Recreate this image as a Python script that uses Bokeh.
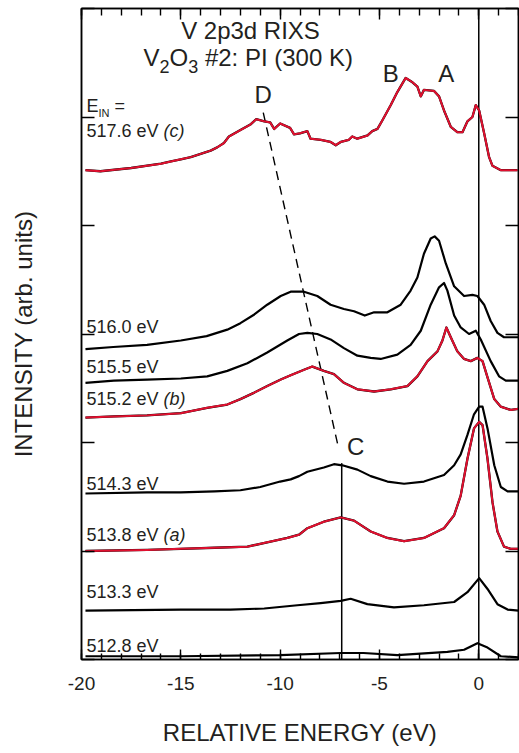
import math
from bokeh.plotting import figure
from bokeh.models import Range1d, LinearAxis, SingleIntervalTicker, FixedTicker, Label
from bokeh.embed import file_html
from bokeh.resources import INLINE

# ---------------- data (relative energy eV, intensity arb. units incl. offset) -------------
spec_517_6 = [(-19.8, 4.51), (-19.05, 4.50), (-17.5, 4.53), (-16, 4.57), (-15.5, 4.59), (-15, 4.61),
              (-14.5, 4.63), (-14, 4.66), (-13.5, 4.69), (-13.17, 4.72), (-12.83, 4.76), (-12.58, 4.82),
              (-12, 4.88), (-11.5, 4.93), (-11.2, 4.98), (-10.8, 4.96),
              (-10.5, 4.95), (-10.3, 4.89), (-10, 4.94), (-9.5, 4.90), (-9.3, 4.84), (-9.0, 4.85),
              (-8.63, 4.87), (-8.47, 4.80), (-7.96, 4.79), (-7.46, 4.77), (-7.2, 4.74), (-6.95, 4.77),
              (-6.54, 4.79), (-6.37, 4.82), (-6.12, 4.80), (-5.6, 4.83), (-5.36, 4.87), (-5.1, 4.89),
              (-4.85, 4.97), (-4.43, 5.11), (-4.1, 5.23), (-3.68, 5.36),
              (-3.34, 5.32), (-3.09, 5.28), (-2.92, 5.19), (-2.76, 5.25), (-2.25, 5.24), (-2.0, 5.19),
              (-1.75, 5.06), (-1.41, 4.91), (-1.08, 4.86), (-0.82, 4.86), (-0.57, 4.96), (-0.32, 5.00),
              (-0.15, 5.11), (0.02, 5.06), (0.27, 4.85), (0.52, 4.63), (0.69, 4.55), (1.11, 4.51),
              (1.95, 4.51)]
spec_516_0 = [(-19.8, 2.86), (-18.4, 2.88), (-16.7, 2.90), (-15, 2.94), (-13.7, 2.98), (-12.66, 3.04),
              (-12, 3.10), (-11.3, 3.18), (-10.65, 3.27), (-9.97, 3.35), (-9.47, 3.39), (-8.8, 3.39),
              (-8.13, 3.35), (-7.46, 3.27), (-6.79, 3.23), (-6.28, 3.21), (-5.74, 3.17), (-5.27, 3.20),
              (-4.6, 3.20), (-3.93, 3.27), (-3.43, 3.40), (-3.09, 3.52), (-2.76, 3.74), (-2.42, 3.88),
              (-2.22, 3.90), (-2.0, 3.86), (-1.66, 3.65), (-1.24, 3.44), (-0.74, 3.35), (-0.32, 3.36),
              (-0.07, 3.35), (0.27, 3.27), (0.6, 3.12), (0.94, 3.01), (1.27, 2.97), (2.0, 2.97)]
spec_515_5 = [(-19.8, 2.55), (-18.37, 2.57), (-16.7, 2.58), (-15, 2.59), (-13.67, 2.61), (-12.66, 2.66),
              (-11.65, 2.73), (-10.65, 2.83), (-9.64, 2.94), (-9.05, 3.00), (-8.63, 3.01), (-8.13, 3.00),
              (-7.46, 2.95), (-6.79, 2.87), (-6.11, 2.80), (-5.44, 2.78), (-4.94, 2.77), (-4.1, 2.81),
              (-3.43, 2.90), (-2.92, 3.03), (-2.42, 3.27), (-2.0, 3.43), (-1.75, 3.47), (-1.58, 3.40),
              (-1.24, 3.17), (-0.91, 3.06), (-0.49, 3.00), (-0.15, 3.03), (0.1, 2.95), (0.6, 2.75),
              (1.02, 2.61), (1.36, 2.57), (2.0, 2.57)]
spec_515_2 = [(-19.8, 2.23), (-18.37, 2.24), (-16.7, 2.25), (-15, 2.27), (-13.67, 2.32), (-12.66, 2.35),
              (-12, 2.40), (-11.3, 2.46), (-10.65, 2.52), (-9.97, 2.58), (-9.47, 2.62), (-8.8, 2.67),
              (-8.38, 2.70), (-7.8, 2.66), (-7.29, 2.63), (-6.79, 2.55), (-6.11, 2.49), (-5.27, 2.47),
              (-4.43, 2.49), (-3.59, 2.52), (-3.09, 2.61), (-2.58, 2.75), (-2.08, 2.84), (-1.83, 2.94),
              (-1.63, 3.06), (-1.41, 2.97), (-1.08, 2.84), (-0.74, 2.77), (-0.4, 2.75), (-0.07, 2.78),
              (0.19, 2.75), (0.44, 2.60), (0.78, 2.40), (1.11, 2.33), (1.61, 2.30), (2.0, 2.31)]
spec_514_3 = [(-19.8, 1.53), (-16.7, 1.54), (-15, 1.54), (-13.3, 1.55), (-12, 1.56), (-11, 1.59),
              (-10, 1.64), (-9.47, 1.66), (-9.05, 1.69), (-8.63, 1.73), (-7.8, 1.77), (-7.29, 1.80),
              (-6.87, 1.79), (-6.11, 1.75), (-5.44, 1.69), (-4.6, 1.64), (-3.76, 1.62), (-2.76, 1.64),
              (-1.75, 1.70), (-1.24, 1.79), (-0.91, 1.89), (-0.57, 2.07), (-0.24, 2.26), (0.02, 2.33),
              (0.19, 2.33), (0.44, 2.13), (0.78, 1.79), (1.11, 1.59), (1.45, 1.55), (2.0, 1.55)]
spec_513_8 = [(-19.8, 1.00), (-16.7, 1.01), (-15, 1.02), (-13.3, 1.03), (-11.65, 1.04), (-10.65, 1.08),
              (-9.64, 1.12), (-9.05, 1.15), (-8.63, 1.21), (-7.8, 1.27), (-6.95, 1.31), (-6.28, 1.28),
              (-5.44, 1.18), (-4.6, 1.12), (-3.76, 1.09), (-2.76, 1.12), (-1.75, 1.21), (-1.24, 1.33),
              (-0.91, 1.51), (-0.57, 1.85), (-0.24, 2.13), (0.02, 2.19), (0.19, 2.16), (0.44, 1.85),
              (0.69, 1.45), (0.94, 1.18), (1.27, 1.04), (1.61, 1.02), (2.0, 1.02)]
spec_513_3 = [(-19.8, 0.45), (-15, 0.46), (-12.5, 0.46), (-10.8, 0.47), (-9.13, 0.50), (-7.96, 0.52),
              (-6.95, 0.54), (-6.45, 0.56), (-5.61, 0.51), (-4.27, 0.48), (-2.76, 0.50), (-1.24, 0.53),
              (-0.57, 0.62), (0.02, 0.75), (0.44, 0.65), (0.94, 0.51), (1.45, 0.46), (2.0, 0.45)]
spec_512_8 = [(-19.8, 0.03), (-15, 0.03), (-10, 0.04), (-6.95, 0.06), (-5.8, 0.06), (-4.1, 0.04),
              (-1.58, 0.07), (-0.74, 0.09), (-0.07, 0.15), (0.44, 0.11), (1.11, 0.03), (2.0, 0.02)]

curve_labels = ["517.6 eV", "516.0 eV", "515.5 eV", "515.2 eV", "514.3 eV", "513.8 eV", "513.3 eV", "512.8 eV"]
curve_label_tags = ["(c)", "", "", "(b)", "", "(a)", "", ""]
curve_label_baseline = [4.81, 3.01, 2.64, 2.34, 1.56, 1.09, 0.56, 0.07]
curve_red = [True, False, False, True, False, True, False, False]

peak_names = ["A", "B", "C", "D"]
peak_x = [-1.64, -4.43, -6.2, -10.86]
peak_y = [5.32, 5.32, 1.89, 5.13]

ref_line_x = [0.0, -6.9]
ref_line_top = [6.0, 1.81]
dispersion_x = [-10.85, -7.05]
dispersion_y = [5.04, 1.94]

x_tick_labels = {-20: "-20", -15: "-15", -10: "-10", -5: "-5", 0: "0"}
y_tick_values = [0, 1, 2, 3, 4, 5, 6]

# ---------------- figure ----------------
FONT = "Liberation Sans"
INK = "#231f20"
RED = "#e0102f"
XPX = 437 / 22.0   # px per eV
YPX = 651 / 6.0    # px per unit

p = figure(width=519, height=753, output_backend="svg", toolbar_location=None,
           x_range=Range1d(-20, 2), y_range=Range1d(0, 6),
           min_border_left=81, min_border_right=1, min_border_top=8, min_border_bottom=94)
p.grid.visible = False
p.outline_line_color = "black"
p.outline_line_width = 1.5
p.background_fill_color = "white"
p.border_fill_color = "white"


def style_axis(ax, major_in, minor_in, labels):
    ax.axis_line_color = "black"
    ax.axis_line_width = 1.5
    ax.major_tick_in = major_in
    ax.major_tick_out = 0
    ax.minor_tick_in = minor_in
    ax.minor_tick_out = 0
    ax.major_tick_line_width = 1.4
    ax.minor_tick_line_width = 1.4
    ax.major_tick_line_color = "black"
    ax.minor_tick_line_color = "black" if minor_in else None
    if labels:
        ax.major_label_text_font = FONT
        ax.major_label_text_font_size = "19px"
        ax.major_label_text_color = INK
        ax.major_label_standoff = 17
    else:
        ax.major_label_text_font_size = "0px"
        ax.major_label_text_color = None
        ax.major_label_standoff = 0


p.xaxis.ticker = SingleIntervalTicker(interval=5, num_minor_ticks=5)
p.xaxis.major_label_overrides = x_tick_labels
style_axis(p.xaxis[0], 10, 6, True)
p.xaxis.axis_label = "RELATIVE ENERGY (eV)"
p.xaxis.axis_label_text_font = FONT
p.xaxis.axis_label_text_font_size = "24px"
p.xaxis.axis_label_text_font_style = "normal"
p.xaxis.axis_label_text_color = INK
p.xaxis.axis_label_standoff = 26

p.yaxis.ticker = FixedTicker(ticks=y_tick_values)
style_axis(p.yaxis[0], 13, 0, False)
p.yaxis.axis_label = "INTENSITY (arb. units)"
p.yaxis.axis_label_text_font = FONT
p.yaxis.axis_label_text_font_size = "24px"
p.yaxis.axis_label_text_font_style = "normal"
p.yaxis.axis_label_text_color = INK
p.yaxis.axis_label_standoff = 45

top_ax = LinearAxis(ticker=SingleIntervalTicker(interval=5, num_minor_ticks=5))
style_axis(top_ax, 11, 7, False)
p.add_layout(top_ax, "above")
right_ax = LinearAxis(ticker=FixedTicker(ticks=y_tick_values))
style_axis(right_ax, 13, 0, False)
p.add_layout(right_ax, "right")

# reference lines
for x0, top in zip(ref_line_x, ref_line_top):
    p.line([x0, x0], [0, top], line_color="black", line_width=1.5)
p.line(dispersion_x, dispersion_y, line_color="black", line_width=1.4, line_dash="9 6")

# spectra
spectra = [spec_517_6, spec_516_0, spec_515_5, spec_515_2, spec_514_3, spec_513_8, spec_513_3, spec_512_8]
for spec, red in zip(spectra, curve_red):
    xs = [e for e, _ in spec]
    ys = [v for _, v in spec]
    if red:
        p.line(xs, ys, line_color="black", line_width=2.3, line_join="round")
        p.line(xs, ys, line_color=RED, line_width=2.0, line_join="round")
    else:
        p.line(xs, ys, line_color="black", line_width=2.2, line_join="round")


def lab(x, y, text, size, align="left", style="normal", x_offset=0):
    # small upward correction so that the glyph baseline sits at y
    y_adj = y + 0.35 * size / YPX
    p.add_layout(Label(x=x, y=y_adj, text=text, text_font=FONT, text_font_size=f"{size}px",
                       text_color=INK, text_align=align, text_baseline="alphabetic",
                       text_font_style=style, x_offset=x_offset))


LX = -20 + 5 / XPX
for name, tag, yb in zip(curve_labels, curve_label_tags, curve_label_baseline):
    lab(LX, yb, name, 18)
    if tag:
        lab(LX, yb, tag, 18, style="italic", x_offset=77)

# E_IN =
lab(LX, 5.04, "E", 18)
lab(LX, 5.04 - 4 / YPX, "IN", 11, x_offset=12)
lab(LX, 5.04, "=", 18, x_offset=28)

# peak letters
for nm, px_, py_ in zip(peak_names, peak_x, peak_y):
    lab(px_, py_, nm, 24, align="center")

# title
TX = -20 + (250 - 81) / XPX
lab(TX, 5.72, "V 2p3d RIXS", 24, align="center")
T2 = -20 + (143 - 81) / XPX
lab(T2, 5.47, "V", 24)
lab(T2, 5.47 - 7 / YPX, "2", 18, x_offset=16)
lab(T2, 5.47, "O", 24, x_offset=26)
lab(T2, 5.47 - 7 / YPX, "3", 18, x_offset=44.7)
lab(T2, 5.47, "#2: PI (300 K)", 24, x_offset=61.4)

open("out.html", "w").write(file_html(p, INLINE))
